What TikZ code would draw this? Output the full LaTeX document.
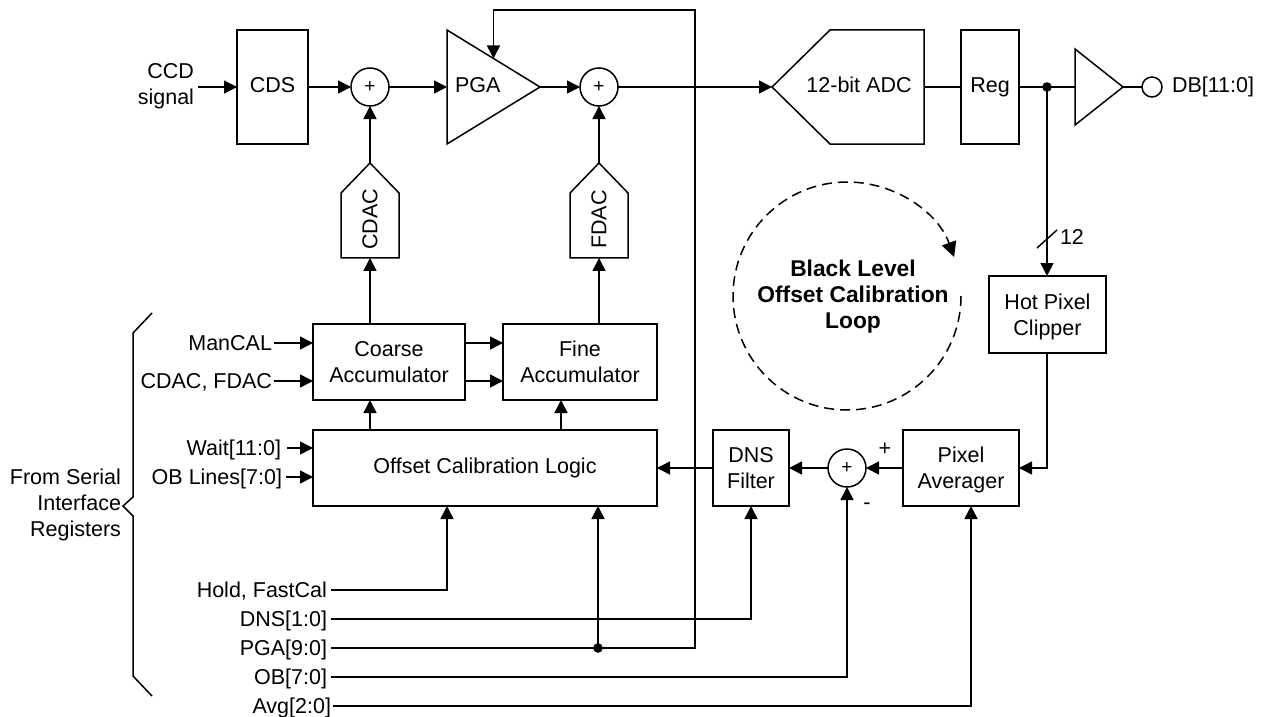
\documentclass[tikz,border=0pt]{standalone}
\usepackage{fontspec}
\setmainfont{Liberation Sans}
\usetikzlibrary{arrows.meta,shapes.geometric,shapes.symbols}

\begin{document}
\begin{tikzpicture}[x=1pt,y=-1pt,line width=1.5pt,>={Triangle[length=13pt,width=13pt]}]
   \tikzstyle{every node}=[font=\fontsize{21.5}{26}\selectfont, align=center, inner sep=0pt, outer sep=0pt]
   \tikzstyle{block}=[draw, anchor=north west]
   \tikzstyle{summer}=[draw, circle, minimum size=38pt, font=\fontsize{19}{19}\selectfont]
   \tikzstyle{amp}=[draw, isosceles triangle, isosceles triangle stretches, shape border rotate=0, anchor=lower side]
   \tikzstyle{dac}=[draw, signal, signal to=east, signal from=nowhere, signal pointer angle=88, minimum width=95pt, minimum height=58pt, rotate=90]
   \tikzstyle{lbl}=[anchor=east, inner xsep=2pt, text height=15pt, text depth=0pt]
   \tikzstyle{joint}=[draw, fill=black, circle, minimum size=8pt]

\useasboundingbox (0,0) rectangle (1266,717);

\node[block, minimum width=71pt, minimum height=114pt, text depth=4pt] (cds) at (237,30) {CDS};
\node[block, minimum width=58pt, minimum height=114pt] (reg) at (961,30) {Reg};
\node[block, minimum width=152pt, minimum height=76pt] (coarse) at (313,324) {Coarse\\Accumulator};
\node[block, minimum width=154pt, minimum height=76pt] (fine) at (503,324) {Fine\\Accumulator};
\node[block, minimum width=344pt, minimum height=76pt] (ocl) at (313,430) {Offset Calibration Logic};
\node[block, minimum width=76pt, minimum height=76pt] (dns) at (713,430) {DNS\\Filter};
\node[block, minimum width=116pt, minimum height=76pt, text depth=0pt] (avg) at (903,430) {Pixel\\Averager};
\node[block, minimum width=117pt, minimum height=77pt, text depth=0pt] (hot) at (989,276) {Hot Pixel\\Clipper};

\node[summer] (sumA) at (370,87) {+};
\node[summer] (sumB) at (599,87) {+};
\node[summer] (sumC) at (847,468) {+};
\node[draw, circle, minimum size=20pt] (dbPin) at (1152,87) {};

\node[amp, minimum width=114pt, minimum height=93pt, text depth=4pt] (pga) at (447,87) {\hspace*{-3pt}PGA\hspace*{3pt}};
\node[amp, minimum width=76pt, minimum height=48pt] (outAmp) at (1075,87) {};
\node[dac] (cdac) at (370,225.5) {\hspace*{6pt}CDAC\hspace*{-6pt}};
\node[dac] (fdac) at (599,225.5) {\hspace*{6pt}FDAC\hspace*{-6pt}};
\node[draw, signal, signal to=west, signal from=nowhere, signal pointer angle=89, minimum width=152pt, minimum height=114pt, anchor=east] (adc) at (924,87) {};
\node[text depth=4pt] (adcText) at (859,87) {12-bit ADC};

\node[joint] (dotReg) at (1047,87) {};
\node[joint] (dotPga) at (598,648) {};

\node[align=right, anchor=east] (ccd) at (194,86) {CCD\\signal};
\coordinate (ccdEnd) at (198,87);
\node[anchor=west] (dbOut) at (1172,87) {DB[11:0]};
\node[anchor=west] (width) at (1060,237) {12};
\coordinate (slashA) at (1037,248);
\coordinate (slashB) at (1057,230);
\node (plus) at (885,449) {+};
\node (minus) at (867,506) {-};
\node[align=right, anchor=east] (serial) at (121,505) {From Serial\\Interface\\Registers};
\node[font=\fontsize{22.8}{26}\bfseries\selectfont] (loop) at (853,297) {Black Level\\Offset Calibration\\Loop};

\node[lbl] (manCal) at (274,343) {ManCAL};
\node[lbl] (dacSel) at (274,381) {CDAC, FDAC};
\node[lbl, inner xsep=6pt] (wait) at (287,448) {Wait[11:0]};
\node[lbl, inner xsep=4pt] (obLines) at (286,477) {OB Lines[7:0]};
\node[lbl, inner xsep=4pt] (hold) at (331,590) {Hold, FastCal};
\node[lbl, inner xsep=4pt] (dnsIn) at (331,619) {DNS[1:0]};
\node[lbl, inner xsep=4pt] (pgaIn) at (331,648) {PGA[9:0]};
\node[lbl, inner xsep=4pt] (obIn) at (331,677) {OB[7:0]};
\node[lbl] (avgIn) at (333,706) {Avg[2:0]};

\coordinate (topBus) at (695,10);
\coordinate (hotBend) at (1047,468);

\draw[->] (ccdEnd) -- (cds.west |- ccdEnd);
\draw[->] (cds.east |- sumA) -- (sumA);
\draw[->] (sumA) -- (pga.lower side);
\draw[->] (pga.apex) -- (sumB);
\draw[->] (sumB) -- (adc.west);
\draw (adc.east) -- (reg.west |- adc.east);
\draw (reg.east |- dotReg) -- (dotReg) -- (outAmp.lower side);
\draw (outAmp.apex) -- (dbPin);
\draw[->] (cdac.east) -- (sumA);
\draw[->] (fdac.east) -- (sumB);
\draw[->] (coarse.north -| cdac) -- (cdac.west);
\draw[->] (fine.north -| fdac) -- (fdac.west);
\draw[->] (dotReg) -- (hot.north -| dotReg);
\draw (slashA) -- (slashB);
\draw[->] (hot.south -| hotBend) -- (hotBend) -- (avg.east |- hotBend);
\draw[->] (avg.west) -- (sumC);
\draw[->] (sumC) -- (dns.east);
\draw[->] (dns.west) -- (ocl.east);
\draw[->] (ocl.north -| sumA) -- (coarse.south -| sumA);
\draw[->] (ocl.north -| 561,430) -- (fine.south -| 561,430);
\draw[->] (coarse.east |- manCal) -- (fine.west |- manCal);
\draw[->] (coarse.east |- dacSel) -- (fine.west |- dacSel);
\draw[->] (manCal) -- (coarse.west |- manCal);
\draw[->] (dacSel) -- (coarse.west |- dacSel);
\draw[->] (wait) -- (ocl.west |- wait);
\draw[->] (obLines) -- (ocl.west |- obLines);
\draw[->] (hold) -| (ocl.south -| 447,506);
\draw[->] (dnsIn) -| (dns.south -| 751,506);
\draw (pgaIn) -- (dotPga);
\draw[->] (dotPga) -- (ocl.south -| dotPga);
\draw[->] (dotPga) -- (dotPga -| topBus) -- (topBus) -- (topBus -| pga.left side) -- (pga.left side);
\draw[->] (obIn) -| (sumC);
\draw[->] (avgIn) -| (avg.south -| 971,506);

\draw (152,313) -- (133,333) -- (133,497) -- (123,506) -- (133,516) -- (133,676) -- (152,696);
\draw[dashed, dash pattern=on 10pt off 6pt, -{Triangle[length=15pt,width=15pt]}] (961,296) arc[start angle=0, delta angle=340, radius=114];
\end{tikzpicture}
\end{document}
